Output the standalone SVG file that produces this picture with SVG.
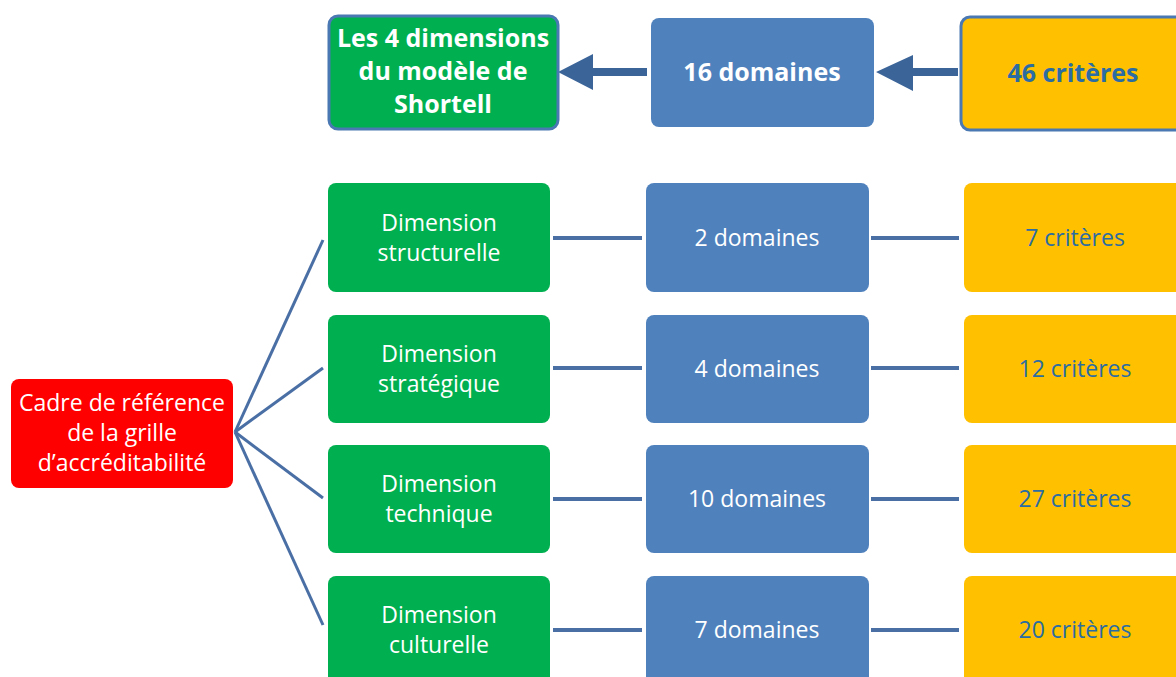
<svg xmlns="http://www.w3.org/2000/svg" width="1176" height="677" viewBox="0 0 1176 677">
  <style>
    .txt { font-family: "Open Sans", "Noto Sans", sans-serif; text-anchor: middle; }
    .hdr { font-size: 25px; font-weight: bold; }
    .row { font-size: 23px; }
    .white { fill: #ffffff; }
    .teal { fill: #2b6ca3; }
    .green { fill: #00b050; }
    .blue { fill: #4f81bd; }
    .yellow { fill: #ffc000; }
    .red { fill: #ff0000; }
    .framed { stroke: #4a78b2; stroke-width: 3; }
    .link { stroke: #4a6fa5; stroke-width: 4; fill: none; }
    .fan { stroke: #4a6fa5; stroke-width: 3; fill: none; }
    .arrow { fill: #3b6498; }
  </style>
  <rect width="1176" height="677" fill="#ffffff"/>

  <!-- connectors -->
  <g id="connectors">
    <!-- header arrows -->
    <polygon class="arrow" points="558,72 593,54 593,68 647,68 647,76 593,76 593,90"/>
    <polygon class="arrow" points="876,72 913,55 913,68 958,68 958,76 913,76 913,91"/>
    <!-- fan from the root -->
    <line class="fan" x1="235" y1="432" x2="323" y2="240"/>
    <line class="fan" x1="235" y1="432" x2="323" y2="368"/>
    <line class="fan" x1="235" y1="432" x2="323" y2="498"/>
    <line class="fan" x1="235" y1="432" x2="323" y2="625"/>
    <!-- dimension to domains -->
    <line class="link" x1="553" y1="238" x2="642" y2="238"/>
    <line class="link" x1="553" y1="368" x2="642" y2="368"/>
    <line class="link" x1="553" y1="499" x2="642" y2="499"/>
    <line class="link" x1="553" y1="630" x2="642" y2="630"/>
    <!-- domains to criteria -->
    <line class="link" x1="871" y1="238" x2="959" y2="238"/>
    <line class="link" x1="871" y1="368" x2="959" y2="368"/>
    <line class="link" x1="871" y1="499" x2="959" y2="499"/>
    <line class="link" x1="871" y1="630" x2="959" y2="630"/>
  </g>

  <!-- header row -->
  <g id="head-dimensions">
    <rect class="green framed" x="329" y="16" width="229" height="113" rx="9"/>
    <text class="txt hdr white" x="443" y="47">Les 4 dimensions</text>
    <text class="txt hdr white" x="443" y="80">du modèle de</text>
    <text class="txt hdr white" x="443" y="113">Shortell</text>
  </g>
  <g id="head-domaines">
    <rect class="blue" x="651" y="18" width="223" height="109" rx="8"/>
    <text class="txt hdr white" x="762" y="81">16 domaines</text>
  </g>
  <g id="head-criteres">
    <rect class="yellow framed" x="961" y="17" width="228" height="113" rx="9"/>
    <text class="txt hdr teal" x="1073" y="82">46 critères</text>
  </g>

  <!-- root -->
  <g id="root">
    <rect class="red" x="11" y="379" width="222" height="109" rx="8"/>
    <text class="txt row white" x="122" y="411">Cadre de référence</text>
    <text class="txt row white" x="122" y="441">de la grille</text>
    <text class="txt row white" x="122" y="471">d’accréditabilité</text>
  </g>

  <!-- row 1 -->
  <g id="dim-structurelle">
    <rect class="green" x="328" y="183" width="222" height="109" rx="8"/>
    <text class="txt row white" x="439" y="231">Dimension</text>
    <text class="txt row white" x="439" y="261">structurelle</text>
  </g>
  <g id="dom-structurelle">
    <rect class="blue" x="646" y="183" width="223" height="109" rx="8"/>
    <text class="txt row white" x="757" y="246">2 domaines</text>
  </g>
  <g id="crit-structurelle">
    <rect class="yellow" x="964" y="183" width="222" height="109" rx="8"/>
    <text class="txt row teal" x="1075" y="246">7 critères</text>
  </g>

  <!-- row 2 -->
  <g id="dim-strategique">
    <rect class="green" x="328" y="315" width="222" height="108" rx="8"/>
    <text class="txt row white" x="439" y="362">Dimension</text>
    <text class="txt row white" x="439" y="392">stratégique</text>
  </g>
  <g id="dom-strategique">
    <rect class="blue" x="646" y="315" width="223" height="108" rx="8"/>
    <text class="txt row white" x="757" y="377">4 domaines</text>
  </g>
  <g id="crit-strategique">
    <rect class="yellow" x="964" y="315" width="222" height="108" rx="8"/>
    <text class="txt row teal" x="1075" y="377">12 critères</text>
  </g>

  <!-- row 3 -->
  <g id="dim-technique">
    <rect class="green" x="328" y="445" width="222" height="108" rx="8"/>
    <text class="txt row white" x="439" y="492">Dimension</text>
    <text class="txt row white" x="439" y="522">technique</text>
  </g>
  <g id="dom-technique">
    <rect class="blue" x="646" y="445" width="223" height="108" rx="8"/>
    <text class="txt row white" x="757" y="507">10 domaines</text>
  </g>
  <g id="crit-technique">
    <rect class="yellow" x="964" y="445" width="222" height="108" rx="8"/>
    <text class="txt row teal" x="1075" y="507">27 critères</text>
  </g>

  <!-- row 4 -->
  <g id="dim-culturelle">
    <rect class="green" x="328" y="576" width="222" height="109" rx="8"/>
    <text class="txt row white" x="439" y="623">Dimension</text>
    <text class="txt row white" x="439" y="653">culturelle</text>
  </g>
  <g id="dom-culturelle">
    <rect class="blue" x="646" y="576" width="223" height="109" rx="8"/>
    <text class="txt row white" x="757" y="638">7 domaines</text>
  </g>
  <g id="crit-culturelle">
    <rect class="yellow" x="964" y="576" width="222" height="109" rx="8"/>
    <text class="txt row teal" x="1075" y="638">20 critères</text>
  </g>
</svg>
